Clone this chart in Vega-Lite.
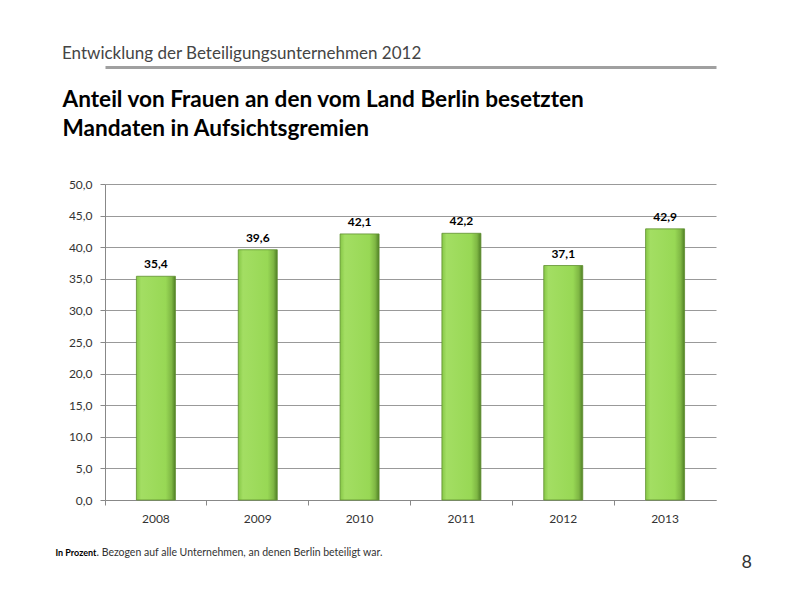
{
  "$schema": "https://vega.github.io/schema/vega-lite/v6.json",
  "width": 611,
  "height": 316,
  "autosize": "none",
  "padding": {"left": 105, "top": 184, "right": 84, "bottom": 100},
  "background": "white",
  "config": {
    "font": "Lato",
    "view": {"stroke": null},
    "locale": {"number": {"decimal": ",", "thousands": ".", "grouping": [3], "currency": ["", " €"]}}
  },
  "title": {
    "text": "Entwicklung der Beteiligungsunternehmen  2012",
    "anchor": "start",
    "frame": "group",
    "dx": -43,
    "offset": 4,
    "fontSize": 17,
    "fontWeight": "normal",
    "color": "#454545",
    "font": "Lato"
  },
  "data": {
    "values": [
      {"jahr": "2008", "anteil": 35.4},
      {"jahr": "2009", "anteil": 39.6},
      {"jahr": "2010", "anteil": 42.1},
      {"jahr": "2011", "anteil": 42.2},
      {"jahr": "2012", "anteil": 37.1},
      {"jahr": "2013", "anteil": 42.9}
    ]
  },
  "resolve": {"axis": {"x": "independent", "y": "independent"}},
  "layer": [
    {
      "mark": {
        "type": "bar",
        "size": 39,
        "stroke": "#5f8f30",
        "strokeWidth": 0.8,
        "fill": {
          "x1": 0, "y1": 0, "x2": 1, "y2": 0,
          "gradient": "linear",
          "stops": [
            {"offset": 0, "color": "#86c746"},
            {"offset": 0.12, "color": "#a3de63"},
            {"offset": 0.75, "color": "#98d855"},
            {"offset": 0.9, "color": "#7fb744"},
            {"offset": 1, "color": "#4f7f25"}
          ]
        }
      },
      "encoding": {
        "x": {
          "field": "jahr",
          "type": "nominal",
          "scale": {"paddingInner": 0, "paddingOuter": 0},
          "axis": {
            "orient": "bottom",
            "title": ". Bezogen auf alle Unternehmen, an denen Berlin beteiligt war.",
            "titleX": -9,
            "titleY": 55,
            "titleAnchor": "start",
            "titleAlign": "left",
            "titleBaseline": "alphabetic",
            "titleFontSize": 10.5,
            "titleFontWeight": "normal",
            "titleColor": "#333333",
            "labelAngle": 0,
            "labelFontSize": 12,
            "labelColor": "#333333",
            "labelPadding": 8,
            "bandPosition": 0,
            "tickSize": 5,
            "tickColor": "#888888",
            "domainColor": "#888888",
            "grid": false
          }
        },
        "y": {
          "field": "anteil",
          "type": "quantitative",
          "scale": {"domain": [0, 50], "nice": false},
          "axis": {
            "orient": "left",
            "values": [0, 5, 10, 15, 20, 25, 30, 35, 40, 45, 50],
            "format": ".1f",
            "labelFontSize": 12,
            "labelColor": "#333333",
            "labelPadding": 8,
            "tickSize": 5,
            "tickColor": "#888888",
            "domainColor": "#888888",
            "gridColor": "#999999",
            "grid": true,
            "title": "In Prozent",
            "titleAngle": 0,
            "titleX": -50,
            "titleY": 371,
            "titleAlign": "left",
            "titleBaseline": "alphabetic",
            "titleFontSize": 9,
            "titleFontWeight": "bold",
            "titleColor": "#000000"
          }
        }
      }
    },
    {
      "mark": {"type": "text", "dy": -8, "fontWeight": "bold", "fontSize": 12, "color": "#000000", "baseline": "alphabetic"},
      "encoding": {
        "x": {
          "field": "jahr",
          "type": "nominal",
          "axis": {
            "orient": "top",
            "offset": 117,
            "domainColor": "#a0a0a0",
            "domainWidth": 3,
            "ticks": false,
            "labels": false,
            "grid": false,
            "title": ["Anteil von Frauen an den vom Land Berlin besetzten", "Mandaten in Aufsichtsgremien"],
            "titleX": -43,
            "titleY": 39,
            "titleAnchor": "start",
            "titleAlign": "left",
            "titleBaseline": "alphabetic",
            "titleLineHeight": 29,
            "titleFontSize": 22.6,
            "titleFontWeight": "bold",
            "titleColor": "#000000"
          }
        },
        "y": {
          "field": "anteil",
          "type": "quantitative",
          "axis": {
            "orient": "right",
            "domain": false,
            "ticks": false,
            "labels": false,
            "grid": false,
            "title": "8",
            "titleAngle": 0,
            "titleX": 25,
            "titleY": 383,
            "titleAlign": "left",
            "titleBaseline": "alphabetic",
            "titleFontSize": 18,
            "titleFontWeight": "normal",
            "titleColor": "#333333"
          }
        },
        "text": {"field": "anteil", "type": "quantitative", "format": ".1f"}
      }
    }
  ]
}
